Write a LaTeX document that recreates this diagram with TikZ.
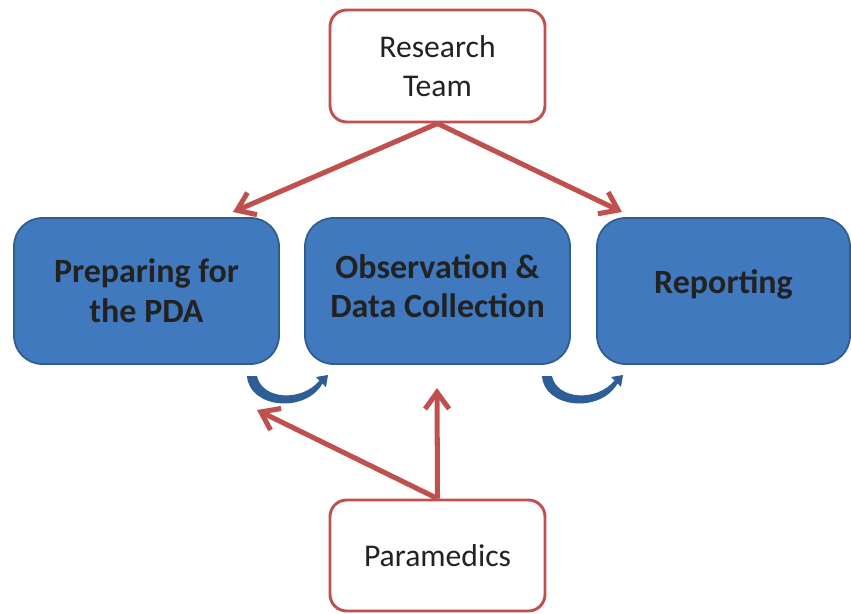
\documentclass[tikz,border=0pt]{standalone}
\usepackage{fontspec}
\setsansfont{Carlito}
\usepackage{tikz}
\usetikzlibrary{arrows.meta}
\usepackage{xcolor}
\definecolor{boxred}{HTML}{C0504D}
\definecolor{boxblue}{HTML}{4079BE}
\definecolor{edgeblue}{HTML}{2F5D8F}
\definecolor{curlblue}{HTML}{2E5E98}
\definecolor{inkgray}{HTML}{222222}

\tikzset{
  redbox/.style={draw=boxred, line width=2.5pt, fill=white, rounded corners=0.5cm,
    minimum width=6.45cm, minimum height=3.36cm, align=center, text=inkgray,
    font=\sffamily\fontsize{27}{33}\selectfont},
  bluebox/.style={draw=edgeblue, line width=1.5pt, fill=boxblue, rounded corners=0.85cm,
    minimum width=7.95cm, minimum height=4.38cm, align=center, text=inkgray,
    font=\sffamily\bfseries\fontsize{29}{34}\selectfont},
  redarrow/.style={draw=boxred, line width=4.3pt, -{Straight Barb[length=0.5cm,width=0.72cm]}},
  curl/.style={fill=curlblue}
}

\begin{document}
\begin{tikzpicture}[x=0.03cm, y=-0.03cm]

  \useasboundingbox (0,0) rectangle (851,613);

  %boxes:
  \node[redbox] (team) at (437.5,66) {Research\\Team};
  \node[redbox, minimum height=3.33cm] (medics) at (437.5,555.5) {Paramedics};
  \node[bluebox] (prep) at (146.5,291) {Preparing for\\the PDA};
  \node[bluebox, text depth=0.3cm] (obs) at (437.5,291) {Observation \&\\Data Collection};
  \node[bluebox, minimum width=7.59cm, text depth=0.56cm] (rep) at (723.5,291) {Reporting};

  %arrow ends:
  \coordinate (prepin) at (233,212);
  \coordinate (repin) at (622,212);
  \coordinate (curlin) at (257,410);
  \coordinate (obsin) at (437,388);

  %red arrows
  \draw[redarrow] (team.south) -- (prepin);
  \draw[redarrow] (team.south) -- (repin);
  \draw[redarrow] (medics.north) -- (curlin);
  \draw[redarrow] (medics.north) -- (obsin);

  %blue curls:
  \foreach \dx in {0,295}{
    \fill[curl, xshift=\dx*0.03cm]
      (247,376) .. controls (249,408) and (305,414) .. (322.5,383.5)
      -- (326,387) -- (328,375) -- (316,377) -- (319.5,380.5)
      .. controls (302,402) and (262,400) .. (257,376) -- cycle;
  }
\end{tikzpicture}
\end{document}
